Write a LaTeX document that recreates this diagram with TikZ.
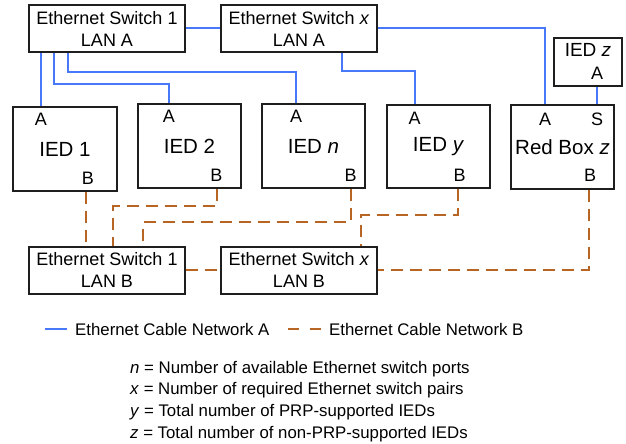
\documentclass[tikz,border=0pt]{standalone}
\usepackage{fontspec}
\setmainfont{Liberation Sans}
\usetikzlibrary{calc}
\definecolor{netblue}{RGB}{72,120,250}
\definecolor{netbrown}{RGB}{184,100,34}
\definecolor{boxline}{RGB}{30,30,30}
\tikzset{
  box/.style={draw=boxline, line width=2pt, inner sep=0pt},
  swbox/.style={box, minimum width=156pt, minimum height=47pt, align=center, font=\fontsize{18}{22}\selectfont},
  iedbox/.style={box, minimum width=103pt, minimum height=84pt, font=\fontsize{20.5}{24}\selectfont},
  port/.style={inner sep=0pt, font=\fontsize{18}{22}\selectfont},
  netA/.style={draw=netblue, line width=2pt},
  netB/.style={draw=netbrown, line width=2pt, dash pattern=on 12pt off 7pt},
  legtext/.style={inner sep=0pt, anchor=base west, font=\fontsize{16.8}{21}\selectfont},
}
\begin{document}
\begin{tikzpicture}[x=1pt,y=-1pt]
\useasboundingbox (0,0) rectangle (626,444);
% switches
\node[swbox] (sw1a) at (107,28.5) {Ethernet Switch 1\\LAN A};
\node[swbox] (swxa) at (299,28.5) {Ethernet Switch \textit{x}\\LAN A};
\node[swbox] (sw1b) at (107,270) {Ethernet Switch 1\\LAN B};
\node[swbox] (swxb) at (299,270) {Ethernet Switch \textit{x}\\LAN B};
% IEDs
\node[iedbox, minimum width=104pt] (ied1) at (65,149) {IED 1};
\node[iedbox] (ied2) at (189.5,146) {IED 2};
\node[iedbox] (iedn) at (313.5,146) {IED \textit{n}};
\node[iedbox, minimum height=83pt] (iedy) at (438.5,146.5) {IED \textit{y}};
\node[iedbox] (red) at (562.5,147) {Red Box \textit{z}};
\node[box, minimum width=68pt, minimum height=48pt] (iedz) at (588,62) {};
\node[port, font=\fontsize{19}{22}\selectfont] (iedzt) at (588,50) {IED \textit{z}};
% ports
\node[port] (p1a) at (41,119.5) {A};
\node[port] (p1b) at (88,178) {B};
\node[port] (p2a) at (169,116.5) {A};
\node[port] (p2b) at (216.5,175.5) {B};
\node[port] (pna) at (296,116.5) {A};
\node[port] (pnb) at (350.5,175.5) {B};
\node[port] (pya) at (414.5,118) {A};
\node[port] (pyb) at (459.5,175.5) {B};
\node[port] (pra) at (545,119) {A};
\node[port] (prs) at (597,119) {S};
\node[port] (prb) at (590,175) {B};
\node[port] (pza) at (597,73) {A};
% network A
\draw[netA] (sw1a.east) -- (swxa.west);
\draw[netA] ($(sw1a.south west)+(13,0)$) -- ($(ied1.north west)+(29,0)$);
\draw[netA] ($(sw1a.south west)+(26,0)$) -- ++(0,31) -| (p2a |- ied2.north);
\draw[netA] ($(sw1a.south west)+(40,0)$) -- ++(0,19) -| (pna |- iedn.north);
\draw[netA] ($(swxa.south west)+(122,0)$) -- ++(0,18) -| (pya |- iedy.north);
\draw[netA] (swxa.east) -| (pra |- red.north);
\draw[netA] (pza |- iedz.south) -- (prs |- red.north);
% network B
\draw[netB] ($(ied1.south west)+(74,0)$) -- ($(sw1b.north west)+(58,0)$);
\draw[netB] (ied2.south -| 217,0) -- ++(0,17) -| ($(sw1b.north west)+(85,0)$);
\draw[netB] (pnb |- iedn.south) -- ++(0,33) -| ($(sw1b.north west)+(115,0)$);
\draw[netB] (iedy.south -| 458,0) -- ++(0,26) -| ($(swxb.north west)+(141,0)$);
\draw[netB] (red.south -| 589,0) |- (swxb.east);
\draw[netB] (sw1b.east) -- (swxb.west);
% legend
\coordinate (la1) at (45,329);
\coordinate (la2) at (67,329);
\coordinate (lb1) at (288,329);
\coordinate (lb2) at (322,329);
\draw[netA] (la1) -- (la2);
\draw[netB, dash pattern=on 11pt off 11pt] (lb1) -- (lb2);
\node[legtext, anchor=west] (lta) at (75,329) {Ethernet Cable Network A};
\node[legtext, anchor=west] (ltb) at (329,329) {Ethernet Cable Network B};
\node[legtext] (d1) at (130,373) {\textit{n} = Number of available Ethernet switch ports};
\node[legtext] (d2) at (130,394.5) {\textit{x} = Number of required Ethernet switch pairs};
\node[legtext] (d3) at (130,416.5) {\textit{y} = Total number of PRP-supported IEDs};
\node[legtext] (d4) at (130,438) {\textit{z} = Total number of non-PRP-supported IEDs};
\end{tikzpicture}
\end{document}
